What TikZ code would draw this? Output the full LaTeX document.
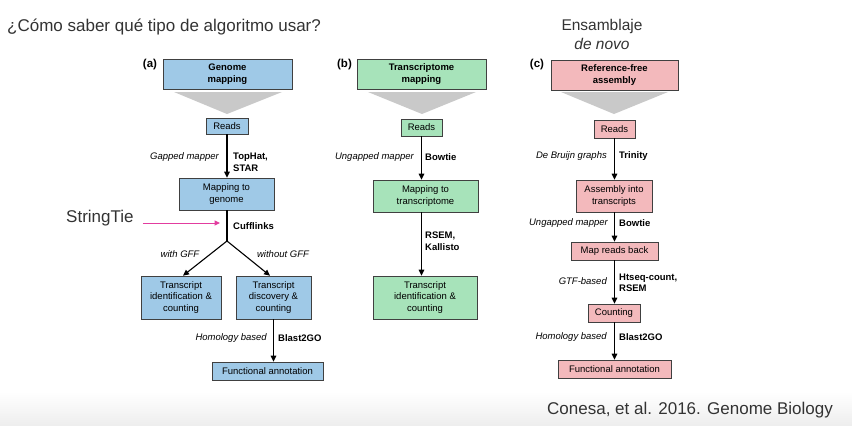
\documentclass[tikz,border=0pt]{standalone}
\usepackage{fontspec}
\setmainfont{Liberation Sans}
\usetikzlibrary{arrows.meta}
\definecolor{bluebox}{HTML}{9FC9E7}
\definecolor{greenbox}{HTML}{A7E3BA}
\definecolor{pinkbox}{HTML}{F3B9BC}
\definecolor{trigray}{HTML}{C9C9C9}
\definecolor{pinkarrow}{HTML}{E23C9F}
\definecolor{darktext}{HTML}{333333}
\tikzset{
  box/.style={draw=black!75, line width=0.6pt, inner sep=0pt, align=center, font=\fontsize{9.5}{11.5}\selectfont},
  headbox/.style={box, font=\fontsize{9.5}{11.5}\selectfont\bfseries},
  abox/.style={box, fill=bluebox},
  bbox/.style={box, fill=greenbox},
  cbox/.style={box, fill=pinkbox},
  flow/.style={line width=1.1pt, -{Triangle[length=6pt,width=5.5pt]}},
  plainline/.style={line width=1.1pt},
  lab/.style={font=\fontsize{9.5}{11.5}\selectfont\itshape, anchor=east, inner sep=0pt},
  tool/.style={font=\fontsize{9.5}{11.5}\selectfont\bfseries, anchor=west, align=left, inner sep=0pt},
  clab/.style={font=\fontsize{9.5}{11.5}\selectfont\itshape, inner sep=0pt},
  panel/.style={font=\fontsize{11.5}{13}\selectfont\bfseries, inner sep=0pt},
  big/.style={font=\fontsize{17}{20}\selectfont, text=darktext, inner sep=0pt},
  tri/.style={fill=trigray},
  pinkflow/.style={draw=pinkarrow, line width=1pt, -{Triangle[length=5.5pt,width=5pt]}}
}
\begin{document}
\begin{tikzpicture}[x=1pt,y=-1pt]
\useasboundingbox (0,0) rectangle (852,426);
\fill[white] (0,0) rectangle (852,426);
\shade[top color=white, bottom color=black!7] (0,392) rectangle (852,426);

% titles
\node[big, anchor=west] (title) at (7,27) {¿Cómo saber qué tipo de algoritmo usar?};
\node[big, anchor=west] (cite) at (547,410) {Conesa, et al. 2016. Genome Biology};
\node[big, font=\fontsize{15.5}{18}\selectfont] (ens) at (602,26) {Ensamblaje};
\node[big, font=\fontsize{15.5}{18}\selectfont\itshape] (novo) at (602,44) {de novo};

% ---------- panel (a)
\node[panel] (pa) at (150,65) {(a)};
\node[headbox, fill=bluebox, minimum width=129pt, minimum height=30pt] (atop) at (227.5,74) {Genome\\mapping};
\fill[tri] (174,92) -- (282,92) -- (227,114) -- cycle;
\node[abox, minimum width=42pt, minimum height=16pt] (ardr) at (227,126) {Reads};
\node[abox, minimum width=95pt, minimum height=32pt] (amap) at (226.5,194) {Mapping to\\genome};
\node[abox, minimum width=80pt, minimum height=43pt] (altx) at (181,297.5) {Transcript\\identification \&\\counting};
\node[abox, minimum width=75pt, minimum height=43pt] (artx) at (273.5,297.5) {Transcript\\discovery \&\\counting};
\node[abox, minimum width=111pt, minimum height=18pt] (afun) at (267.5,371) {Functional annotation};
\coordinate (asplit) at (227,241);

\draw[flow] (ardr.south) -- (ardr.south |- amap.north);
\draw[plainline] (amap.south -| asplit) -- (asplit);
\draw[flow] (asplit) -- ([xshift=2pt]altx.north);
\draw[flow] (asplit) -- ([xshift=-3.5pt]artx.north);
\draw[flow] (artx.south) -- (artx.south |- afun.north);

\node[lab] (agap) at (219,157) {Gapped mapper};
\node[tool] (atop2) at (233,162.5) {TopHat,\\STAR};
\node[tool] (acuff) at (233,226) {Cufflinks};
\node[clab] (awith) at (180,254) {with GFF};
\node[clab] (awithout) at (283,254) {without GFF};
\node[lab] (ahom) at (267,338) {Homology based};
\node[tool] (ablast) at (278,338) {Blast2GO};

\node[big, anchor=west] (st) at (66,218) {StringTie};
\coordinate (stend) at (220,223);
\draw[pinkflow] ([xshift=9pt]st.east |- stend) -- (stend);

% ---------- panel (b)
\node[panel] (pb) at (344.5,65) {(b)};
\node[headbox, fill=greenbox, minimum width=129pt, minimum height=30pt] (btop) at (421.5,74) {Transcriptome\\mapping};
\fill[tri] (368,92) -- (476,92) -- (422,114) -- cycle;
\node[bbox, minimum width=41pt, minimum height=17pt] (brdr) at (421.5,127.5) {Reads};
\node[bbox, minimum width=105pt, minimum height=32pt] (bmap) at (425.5,196) {Mapping to\\transcriptome};
\node[bbox, minimum width=104pt, minimum height=43pt] (btx) at (425,297.5) {Transcript\\identification \&\\counting};

\draw[flow] (brdr.south) -- (brdr.south |- bmap.north);
\draw[flow] (brdr.south |- bmap.south) -- (brdr.south |- btx.north);

\node[lab] (bung) at (414,157) {Ungapped mapper};
\node[tool] (bbow) at (425,157) {Bowtie};
\node[tool] (brsem) at (425,241) {RSEM,\\Kallisto};

% ---------- panel (c)
\node[panel] (pc) at (537,65) {(c)};
\node[headbox, fill=pinkbox, minimum width=127pt, minimum height=30pt] (ctop) at (614.5,75) {Reference-free\\assembly};
\fill[tri] (561,92) -- (668,92) -- (614,114) -- cycle;
\node[cbox, minimum width=41pt, minimum height=18pt] (crdr) at (614.5,129) {Reads};
\node[cbox, minimum width=76pt, minimum height=32pt] (casm) at (614,196) {Assembly into\\transcripts};
\node[cbox, minimum width=87pt, minimum height=18pt] (cback) at (614.5,251) {Map reads back};
\node[cbox, minimum width=52pt, minimum height=18pt] (ccount) at (614,313) {Counting};
\node[cbox, minimum width=113pt, minimum height=18pt] (cfun) at (614.5,369) {Functional annotation};

\draw[flow] (crdr.south) -- (crdr.south |- casm.north);
\draw[flow] (crdr.south |- casm.south) -- (crdr.south |- cback.north);
\draw[flow] (crdr.south |- cback.south) -- (crdr.south |- ccount.north);
\draw[flow] (crdr.south |- ccount.south) -- (crdr.south |- cfun.north);

\node[lab] (cdb) at (607,156) {De Bruijn graphs};
\node[tool] (ctri) at (619,156) {Trinity};
\node[lab] (cung) at (608,223) {Ungapped mapper};
\node[tool] (cbow) at (619,223) {Bowtie};
\node[lab] (cgtf) at (607,281) {GTF-based};
\node[tool] (chts) at (619,283) {Htseq-count,\\RSEM};
\node[lab] (chom) at (607,337) {Homology based};
\node[tool] (cblast) at (619,337) {Blast2GO};
\end{tikzpicture}
\end{document}
